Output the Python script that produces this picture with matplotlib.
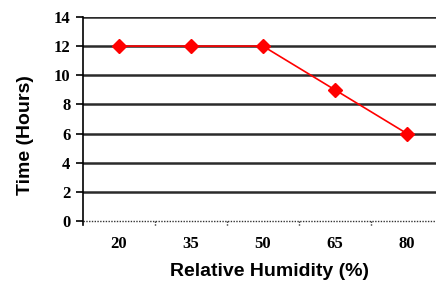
import matplotlib.pyplot as plt
import numpy as np

humidity = ["20", "35", "50", "65", "80"]
hours = [12, 12, 12, 9, 6]
yticks = [0, 2, 4, 6, 8, 10, 12, 14]

fig = plt.figure(figsize=(4.36, 2.92), dpi=100)
ax = fig.add_axes([0.19, 0.243, 0.826, 0.699])

x = np.arange(len(humidity))
# gridlines
for v in yticks[1:]:
    ax.axhline(v, color="#2b2b2b", lw=1.8, zorder=1)
# dotted baseline at 0
ax.axhline(0, color="#333333", lw=1.0, ls=(0, (1, 1)), clip_on=False, zorder=2)
# small dotted tick marks between categories
for b in np.arange(0.5, len(humidity) - 0.5, 1.0):
    ax.plot([b, b], [0, -0.35], color="#333333", lw=1.0, ls=(0, (1, 1)), clip_on=False)
ax.plot(x, hours, color="red", lw=1.2, marker="D", ms=7.5, mec="red", mfc="red", zorder=3)

ax.set_xlim(-0.5, len(humidity) - 0.5)
ax.set_ylim(0, 14)
ax.set_yticks(yticks)
ax.set_xticks(x)
ax.set_xticklabels(humidity)

for sp in ["top", "right", "bottom"]:
    ax.spines[sp].set_visible(False)
ax.spines["left"].set_color("black")
ax.spines["left"].set_linewidth(1.2)
ax.spines["left"].set_bounds(-0.3, 14)

ax.tick_params(axis="y", length=5, width=1.2, pad=4)
ax.tick_params(axis="x", length=0, pad=11)
for lab in ax.get_xticklabels() + ax.get_yticklabels():
    lab.set_fontfamily("Liberation Serif")
    lab.set_fontweight("bold")
    lab.set_fontsize(12)

fig.text(270 / 436, 1 - 272 / 292, "Relative Humidity (%)", ha="center", va="center",
         fontsize=14, fontweight="bold", fontfamily="Liberation Sans")
fig.text(25 / 436, 1 - 135 / 292, "Time (Hours)", ha="center", va="center", rotation=90,
         fontsize=14, fontweight="bold", fontfamily="Liberation Sans")

plt.savefig("out.png", dpi=100)
